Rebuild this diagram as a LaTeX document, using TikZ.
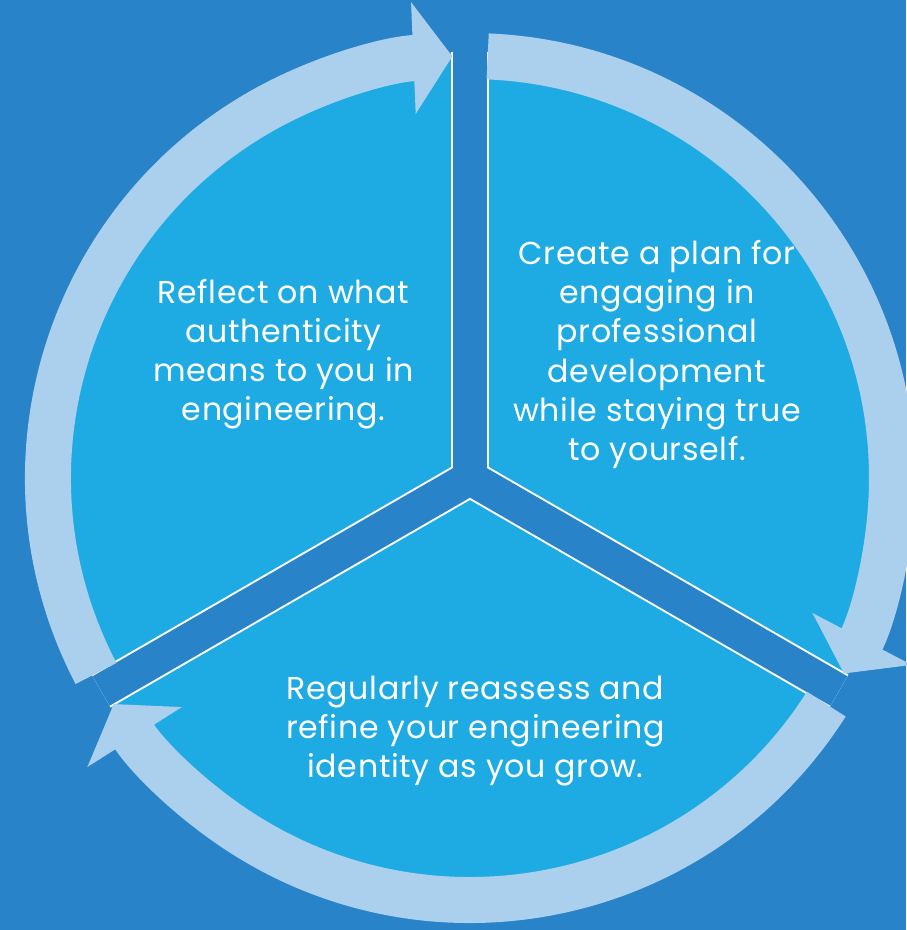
\documentclass[tikz,border=0pt]{standalone}
\usepackage{fontspec}
\setmainfont{Poppins}[LetterSpace=2]
\usetikzlibrary{arrows.meta}
\definecolor{bgblue}{HTML}{2983C8}
\definecolor{fillblue}{HTML}{1EABE3}
\definecolor{ringblue}{HTML}{AAD0EE}
\tikzset{>={Triangle[length=0.78cm,width=2.2cm]}}
\tikzset{ring/.style={draw=ringblue, line width=0.92cm, ->},
	steptext/.style={text=white, align=center, font=\fontsize{18}{22.2}\selectfont}}

\begin{document}
\begin{tikzpicture}
	\useasboundingbox (-9.4,-9.04) rectangle (8.72,9.56);
	\fill [bgblue] (-9.4,-9.04) rectangle (8.72,9.56);
	\fill [fillblue] (0,0) circle [radius=8.52];
	% white edges first, then the gaps over them
	\foreach \a in {90,210,330}
		\draw [white, line width=0.76cm] (0,0) -- (\a:8.52);
	\foreach \a in {90,210,330}
		\draw [bgblue, line width=0.68cm] (0,0) -- (\a:8.52);
	% the three arrows of the cycle
	\foreach \a in {90,-30,-150}
		\draw [ring] (\a+117.6:8.44) arc [start angle=\a+117.6, end angle=\a+2.4, radius=8.44];
	\node [steptext] (reflect) at (-3.73,2.47) {Reflect on what\\authenticity\\means to you in\\engineering.};
	\node [steptext] (plan) at (3.74,2.47) {Create a plan for\\engaging in\\professional\\development\\while staying true\\to yourself.};
	\node [steptext] (reassess) at (0.11,-5.06) {Regularly reassess and\\refine your engineering\\identity as you grow.};
\end{tikzpicture}
\end{document}
